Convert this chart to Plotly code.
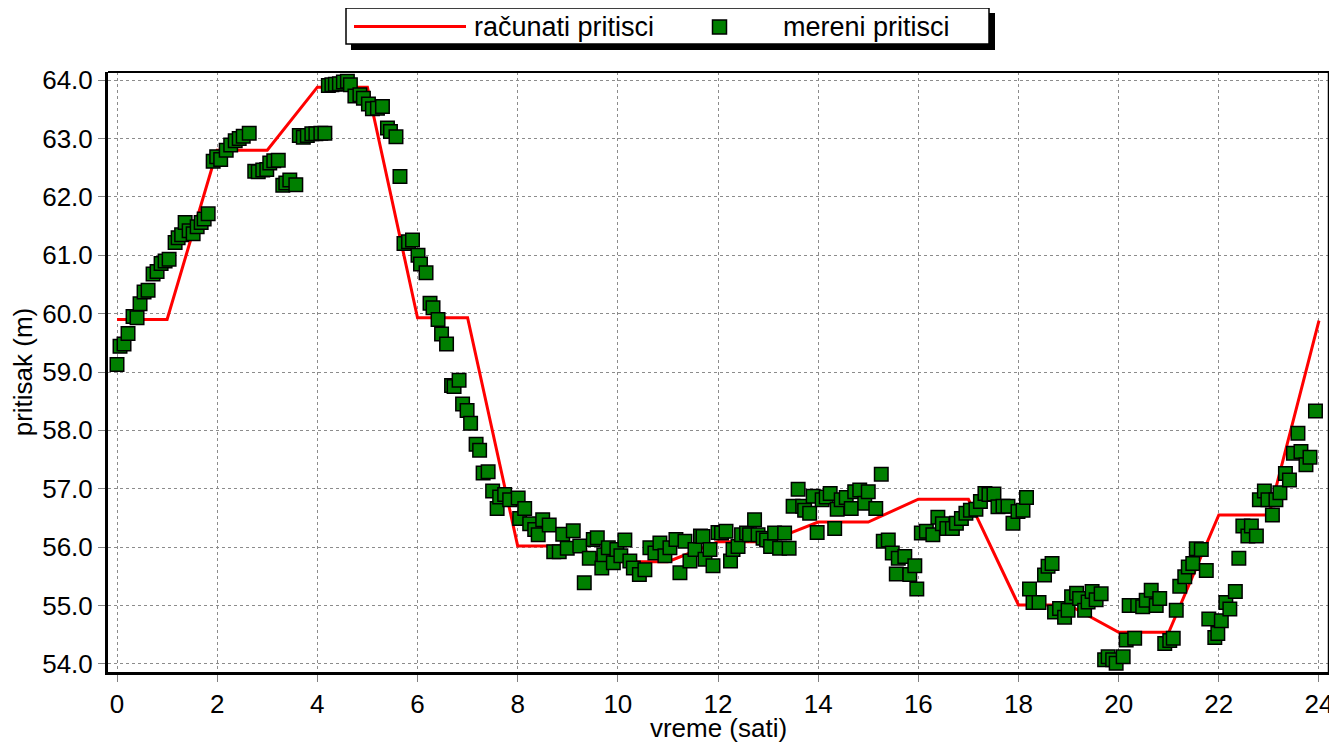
import plotly.graph_objects as go

# ---- data ----
calc_hours = list(range(0, 25))
calc_pressure = [59.90, 59.90, 62.80, 62.80, 63.88, 63.88, 59.93, 59.93, 56.02, 56.02,
                 55.75, 55.75, 56.09, 56.09, 56.43, 56.43, 56.82, 56.82, 55.01, 55.01,
                 54.54, 54.54, 56.55, 56.55, 59.88]

meas_time = [
    0.00, 0.06, 0.14, 0.22, 0.32, 0.40, 0.46, 0.54, 0.62, 0.72, 0.80, 0.88, 0.96, 1.04,
    1.16, 1.22, 1.29, 1.36, 1.44, 1.52, 1.60, 1.68, 1.74, 1.82, 1.92, 1.99, 2.07, 2.18,
    2.27, 2.36, 2.44, 2.52, 2.64, 2.75, 2.82, 2.91, 2.99, 3.05, 3.13, 3.22, 3.31, 3.37,
    3.45, 3.57, 3.64, 3.72, 3.80, 3.89, 3.97, 4.07, 4.15, 4.22, 4.29, 4.36, 4.44, 4.52,
    4.60, 4.66, 4.75, 4.85, 4.92, 5.02, 5.10, 5.20, 5.30, 5.40, 5.46, 5.57, 5.65, 5.73,
    5.82, 5.90, 6.01, 6.06, 6.17, 6.25, 6.31, 6.41, 6.48, 6.58, 6.68, 6.73, 6.83, 6.90,
    6.99, 7.06, 7.17, 7.24, 7.31, 7.41, 7.50, 7.59, 7.64, 7.74, 7.84, 8.01, 8.04, 8.14,
    8.24, 8.34, 8.41, 8.50, 8.63, 8.72, 8.83, 8.90, 8.99, 9.11, 9.24, 9.33, 9.43, 9.51,
    9.59, 9.68, 9.72, 9.81, 9.91, 9.98, 10.06, 10.14, 10.24, 10.31, 10.43, 10.54, 10.64,
    10.74, 10.84, 10.94, 11.04, 11.16, 11.24, 11.34, 11.44, 11.54, 11.65, 11.70, 11.74,
    11.84, 11.90, 12.00, 12.07, 12.16, 12.25, 12.30, 12.40, 12.47, 12.57, 12.63, 12.73,
    12.80, 12.90, 12.97, 13.05, 13.13, 13.23, 13.33, 13.42, 13.50, 13.60, 13.69, 13.73,
    13.83, 13.90, 13.98, 14.08, 14.16, 14.24, 14.33, 14.38, 14.46, 14.56, 14.66, 14.73,
    14.83, 14.93, 15.00, 15.15, 15.26, 15.30, 15.40, 15.48, 15.56, 15.60, 15.73, 15.83,
    15.93, 15.97, 16.06, 16.16, 16.29, 16.39, 16.48, 16.57, 16.68, 16.76, 16.86, 16.95,
    17.04, 17.15, 17.24, 17.33, 17.41, 17.51, 17.59, 17.69, 17.79, 17.89, 17.99, 18.09,
    18.16, 18.22, 18.29, 18.41, 18.52, 18.59, 18.67, 18.72, 18.82, 18.92, 18.99, 19.06,
    19.16, 19.22, 19.32, 19.39, 19.47, 19.55, 19.65, 19.72, 19.79, 19.88, 19.95, 20.09,
    20.15, 20.21, 20.32, 20.38, 20.48, 20.55, 20.65, 20.75, 20.82, 20.92, 21.02, 21.09,
    21.15, 21.22, 21.32, 21.39, 21.48, 21.55, 21.65, 21.75, 21.80, 21.92, 21.98, 22.05,
    22.14, 22.22, 22.33, 22.40, 22.48, 22.58, 22.65, 22.75, 22.81, 22.91, 22.98, 23.07,
    23.14, 23.22, 23.33, 23.41, 23.49, 23.58, 23.64, 23.74, 23.82, 23.93]

meas_pressure = [
    59.13, 59.44, 59.48, 59.66, 59.95, 59.93, 60.17, 60.37, 60.40, 60.68, 60.72, 60.86, 60.90, 60.93,
    61.22, 61.30, 61.35, 61.56, 61.42, 61.37, 61.49, 61.56, 61.62, 61.71, 62.61, 62.69, 62.64, 62.80,
    62.89, 62.96, 63.00, 63.04, 63.09, 62.44, 62.43, 62.46, 62.47, 62.58, 62.62, 62.63, 62.20, 62.24,
    62.29, 62.21, 63.05, 63.02, 63.05, 63.08, 63.08, 63.09, 63.09, 63.91, 63.92, 63.93, 63.94, 63.97,
    63.98, 63.92, 63.73, 63.75, 63.69, 63.59, 63.51, 63.52, 63.55, 63.18, 63.12, 63.03, 62.35, 61.20,
    61.23, 61.26, 61.00, 60.85, 60.70, 60.18, 60.10, 59.90, 59.65, 59.48, 58.77, 58.75, 58.86, 58.45,
    58.34, 58.12, 57.76, 57.66, 57.27, 57.29, 56.96, 56.66, 56.86, 56.90, 56.81, 56.84, 56.49, 56.66,
    56.40, 56.30, 56.21, 56.47, 56.38, 55.92, 55.92, 56.22, 55.98, 56.28, 56.02, 55.39, 55.81, 56.13,
    56.16, 55.64, 55.87, 55.99, 55.73, 55.96, 55.85, 56.12, 55.76, 55.64, 55.53, 55.61, 55.99,
    55.90, 56.07, 55.85, 55.99, 56.13, 55.56, 56.10, 55.76, 55.96, 56.19, 56.18, 55.79,
    55.96, 55.68, 56.25, 56.24, 56.27, 55.76, 55.96, 56.01, 56.21, 56.24, 56.21, 56.47,
    56.21, 56.15, 56.12, 56.01, 56.24, 55.98, 56.24, 55.98, 56.70, 56.99, 56.70, 56.63,
    56.58, 56.87, 56.25, 56.81, 56.86, 56.92, 56.32, 56.65, 56.81, 56.85, 56.66, 56.95,
    56.98, 56.75, 56.95, 56.66, 57.25, 56.10, 56.12, 55.90, 55.54, 55.81, 55.84, 55.53,
    55.68, 55.28, 56.24, 56.27, 56.21, 56.51, 56.40, 56.32, 56.32, 56.41, 56.49, 56.58,
    56.63, 56.65, 56.78, 56.92, 56.90, 56.91, 56.69, 56.70, 56.70, 56.41, 56.61, 56.63,
    56.85, 55.28, 55.05, 55.05, 55.52, 55.67, 55.72, 54.89, 54.95, 54.80, 54.92, 55.15,
    55.21, 55.12, 54.92, 55.06, 55.24, 55.10, 55.20, 54.07, 54.12, 54.07, 54.01, 54.12,
    54.41, 55.00, 54.44, 55.00, 54.98, 55.09, 55.26, 55.00, 55.12, 54.35, 54.40, 54.44,
    54.92, 55.33, 55.49, 55.66, 55.72, 55.97, 55.96, 55.60, 54.77, 54.45, 54.52, 54.74,
    55.05, 54.94, 55.24, 55.81, 56.36, 56.19, 56.36, 56.19, 56.81, 56.96, 56.81, 56.55,
    56.81, 56.93, 57.26, 57.15, 57.61, 57.95, 57.64, 57.41, 57.54, 58.33]

x_ticks = list(range(0, 25, 2))
y_ticks = [54, 55, 56, 57, 58, 59, 60, 61, 62, 63, 64]

series_names = ["računati pritisci", "mereni pritisci"]
x_title = "vreme (sati)"
y_title = "pritisak (m)"

# ---- styling / layout ----
FONT = "Liberation Sans, Arial, sans-serif"
OFF = 8  # page body margin offset
W_PX, H_PX = 1337 - OFF, 743 - OFF
# plot area in screen pixels
L, R, T, B = 108, 1329, 72, 672
PW, PH = R - L, B - T


def pxx(x):
    return (x - L) / PW


def pxy(y):
    return (B - y) / PH


GREEN = "#007f00"
RED = "#ff0000"

fig = go.Figure()
fig.add_trace(go.Scatter(
    x=calc_hours, y=calc_pressure, mode="lines", name=series_names[0],
    line=dict(color=RED, width=3), showlegend=False))
fig.add_trace(go.Scatter(
    x=meas_time, y=meas_pressure, mode="markers", name=series_names[1],
    marker=dict(symbol="square", size=13.5, color=GREEN,
                line=dict(color="#000000", width=1.5)),
    showlegend=False))

shapes = []
shapes.append(dict(type="line", xref="paper", yref="paper", x0=0, x1=1, y0=1, y1=1,
                   line=dict(color="black", width=2)))
shapes.append(dict(type="line", xref="paper", yref="paper", x0=1, x1=1, y0=0, y1=1,
                   line=dict(color="black", width=2.5)))
# legend shadow and box
shapes.append(dict(type="rect", xref="paper", yref="paper", layer="above",
                   x0=pxx(351), x1=pxx(995), y0=pxy(50), y1=pxy(13),
                   fillcolor="black", line=dict(width=0)))
shapes.append(dict(type="rect", xref="paper", yref="paper", layer="above",
                   x0=pxx(346), x1=pxx(989), y0=pxy(44), y1=pxy(8),
                   fillcolor="white", line=dict(color="black", width=1.5)))
shapes.append(dict(type="line", xref="paper", yref="paper", layer="above",
                   x0=pxx(354), x1=pxx(466), y0=pxy(26.5), y1=pxy(26.5),
                   line=dict(color=RED, width=3)))
shapes.append(dict(type="rect", xref="paper", yref="paper", layer="above",
                   x0=pxx(712.5), x1=pxx(726.5), y0=pxy(34), y1=pxy(20),
                   fillcolor=GREEN, line=dict(color="black", width=1.5)))

annotations = [
    dict(text=series_names[0], xref="paper", yref="paper", x=pxx(472), y=pxy(27),
         xanchor="left", yanchor="middle", showarrow=False,
         font=dict(family=FONT, size=27, color="black")),
    dict(text=series_names[1], xref="paper", yref="paper", x=pxx(781), y=pxy(27),
         xanchor="left", yanchor="middle", showarrow=False,
         font=dict(family=FONT, size=27, color="black")),
]

fig.update_layout(
    width=W_PX, height=H_PX,
    margin=dict(l=L - OFF, r=W_PX - (R - OFF), t=T - OFF, b=H_PX - (B - OFF),
                autoexpand=False),
    paper_bgcolor="white", plot_bgcolor="white",
    font=dict(family=FONT, size=26, color="black"),
    showlegend=False,
    shapes=shapes, annotations=annotations,
    xaxis=dict(range=[-0.18, 24.2], tickvals=x_ticks, ticktext=[str(v) for v in x_ticks],
               showgrid=True, gridcolor="#8c8c8c", griddash="dot", gridwidth=1,
               showline=True, linecolor="black", linewidth=3, mirror=False,
               ticks="outside", ticklen=7, tickcolor="#808080", tickwidth=1,
               zeroline=False, tickfont=dict(size=26),
               title=dict(text=x_title, font=dict(size=26), standoff=7)),
    yaxis=dict(range=[53.86, 64.14], tickvals=y_ticks, tickformat=".1f",
               showgrid=True, gridcolor="#8c8c8c", griddash="dot", gridwidth=1,
               showline=True, linecolor="black", linewidth=3, mirror=False,
               ticks="outside", ticklen=7, tickcolor="#808080", tickwidth=1,
               zeroline=False, tickfont=dict(size=26),
               title=dict(text=y_title, font=dict(size=26), standoff=3)),
)

fig.write_html("out.html")
